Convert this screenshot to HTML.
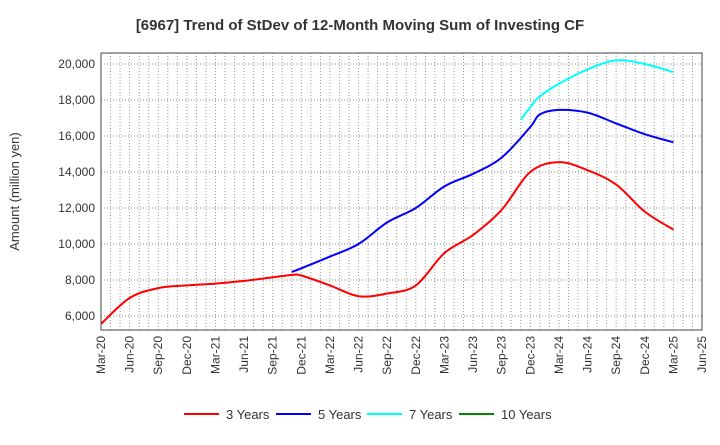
<!DOCTYPE html>
<html><head><meta charset="utf-8"><style>
body{margin:0;background:#fff;font-family:"Liberation Sans",sans-serif}
svg text{font-family:"Liberation Sans",sans-serif}
</style></head><body>
<svg id="c" width="720" height="440" xmlns="http://www.w3.org/2000/svg"></svg>
<script>
const yTicks=[6000,8000,10000,12000,14000,16000,18000,20000];
const xLabels=["Mar-20","Jun-20","Sep-20","Dec-20","Mar-21","Jun-21","Sep-21","Dec-21","Mar-22","Jun-22","Sep-22","Dec-22","Mar-23","Jun-23","Sep-23","Dec-23","Mar-24","Jun-24","Sep-24","Dec-24","Mar-25","Jun-25"];
// month index from Mar-20
const red3Idx=[0,3,6,9,12,15,18,20,21,24,27,30,33,36,39,42,45,48,51,54,57,60];
const red3Val=[5560,7000,7550,7700,7800,7950,8150,8280,8250,7700,7100,7250,7700,9500,10500,11900,14000,14550,14100,13300,11800,10800];
const blue5Idx=[20,21,24,27,30,33,36,39,42,45,46,48,51,54,57,60];
const blue5Val=[8450,8650,9300,10000,11200,12000,13200,13900,14800,16500,17200,17450,17300,16700,16100,15650];
const cyan7Idx=[44,45,46,48,51,54,57,60];
const cyan7Val=[16900,17600,18200,18900,19700,20200,20000,19550];
const green10Idx=[];const green10Val=[];
const L=101,R=702,T=53,B=330;
const X=i=>L+i*(R-L)/63;
const Y=v=>64+(20000-v)*0.018;
const s=document.getElementById('c');const NS="http://www.w3.org/2000/svg";
function el(t,a,p){const e=document.createElementNS(NS,t);for(const k in a)e.setAttribute(k,a[k]);(p||s).appendChild(e);return e;}
let t=el('text',{x:360,y:30,'text-anchor':'middle','font-size':15,'font-weight':'bold',fill:'#333'});t.textContent="[6967]  Trend of StDev of 12-Month Moving Sum of Investing CF";


for(let i=1;i<63;i++){const g=el('line',{x1:X(i),x2:X(i),y1:T,y2:B,stroke:'#999','stroke-dasharray':'1,2','stroke-width':1});

}
yTicks.forEach(v=>{const g=el('line',{x1:L,x2:R,y1:Y(v),y2:Y(v),stroke:'#888','stroke-dasharray':'1,2'});


const tx=el('text',{x:L-6,y:Y(v)+4,'text-anchor':'end','font-size':12,fill:'#333'});tx.textContent=v.toLocaleString('en-US');

});
xLabels.forEach((lb,k)=>{const x=X(k*3);const tx=el('text',{x:0,y:0,'text-anchor':'end','font-size':12,fill:'#333',transform:`translate(${x+4},${B+6}) rotate(-90)`});tx.textContent=lb;

});
const fr=el('rect',{x:L,y:T,width:R-L,height:B-T,fill:'none',stroke:'#444','stroke-width':1});


const yt=el('text',{x:0,y:0,'text-anchor':'middle','font-size':13,fill:'#333',transform:`translate(19,${(T+B)/2}) rotate(-90)`});yt.textContent="Amount (million yen)";


function path(idx,val){if(idx.length<2)return"";const p=idx.map((i,k)=>[X(i),Y(val[k])]);let d=`M${p[0][0]},${p[0][1]}`;
for(let k=0;k<p.length-1;k++){const p0=p[k-1]||p[k],p1=p[k],p2=p[k+1],p3=p[k+2]||p2;
d+=` C${p1[0]+(p2[0]-p0[0])/6},${p1[1]+(p2[1]-p0[1])/6} ${p2[0]-(p3[0]-p1[0])/6},${p2[1]-(p3[1]-p1[1])/6} ${p2[0]},${p2[1]}`;}return d;}
const series=[["3 Years","#f00",red3Idx,red3Val,"line-3-years"],["5 Years","#00f",blue5Idx,blue5Val,"line-5-years"],["7 Years","#0ff",cyan7Idx,cyan7Val,"line-7-years"],["10 Years","#080",green10Idx,green10Val,"line-10-years"]];
const lx=[184,276,367,459];
series.forEach((sr,k)=>{const d=path(sr[2],sr[3]);if(d){const p=el('path',{d,fill:'none',stroke:sr[1],'stroke-width':2});

}
const g=el('g',{});


el('line',{x1:lx[k],x2:lx[k]+35,y1:414,y2:414,stroke:sr[1],'stroke-width':2},g);
const tx=el('text',{x:lx[k]+42,y:419,'font-size':13,fill:'#333'},g);tx.textContent=sr[0];});
</script>
</body></html>
